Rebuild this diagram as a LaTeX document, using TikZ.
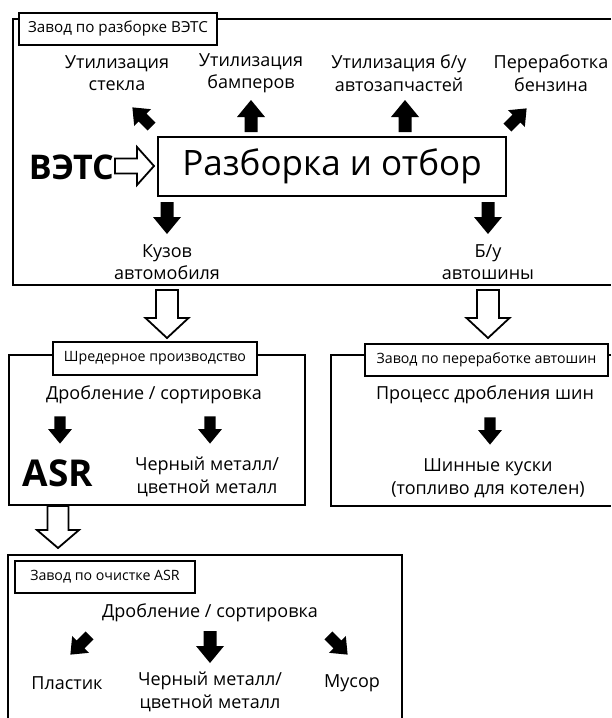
\documentclass[tikz,border=0pt]{standalone}
\usepackage{fontspec}
\setmainfont{Open Sans}
\tikzset{
  lbl/.style={align=center, font=\fontsize{18}{22.5}\selectfont, inner sep=0pt},
  ttl/.style={draw, line width=1.3pt, fill=white, inner sep=0pt, font=\fontsize{14.2}{16}\selectfont},
  frame/.style={line width=1.5pt},
  pics/blk/.style={code={\fill (-6.5,-16) -- (6.5,-16) -- (6.5,-1) -- (14,-1) -- (0,16) -- (-14,-1) -- (-6.5,-1) -- cycle;}},
  pics/hol/.style n args={4}{code={\draw[line width=1.8pt, fill=white, line join=miter] (-#2,0) -- (#2,0) -- (#2,#1-#4) -- (#3,#1-#4) -- (0,#1) -- (-#3,#1-#4) -- (-#2,#1-#4) -- cycle;}}
}
\begin{document}
\begin{tikzpicture}[x=1pt,y=-1pt]
\useasboundingbox (0,0) rectangle (611,718);
% frames
\draw[frame] (611,19) -- (13,19) -- (13,285) -- (611,285);
\draw[frame] (9,355) rectangle (305,505);
\draw[frame] (611,355) -- (331,355) -- (331,506) -- (611,506);
\draw[frame] (8,718) -- (8,555) -- (402,555) -- (402,718);
% titles
\node[ttl, minimum width=198pt, minimum height=32pt, font=\fontsize{15.2}{17}\selectfont] (t1) at (118,29) {Завод по разборке ВЭТС};
\node[ttl, minimum width=204pt, minimum height=33pt] (t2) at (155,358.5) {Шредерное производство};
\node[ttl, minimum width=243pt, minimum height=32pt] (t3) at (486.5,360) {Завод по переработке автошин};
\node[ttl, minimum width=180pt, minimum height=32pt] (t4) at (105,577) {Завод по очистке ASR};
% box 1
\node[draw, line width=1.5pt, minimum width=348pt, minimum height=59pt, inner sep=0pt, font=\fontsize{35}{40}\selectfont] (main) at (332,166.5) {Разборка и отбор};
\node[inner sep=0pt, anchor=east, font=\fontsize{34}{36}\bfseries] (vets) at (114,167) {ВЭТС};
\pic[rotate=90] at (115,166) {hol={39}{7.5}{19}{17}};
\node[lbl] (u1) at (117,73) {Утилизация\\стекла};
\node[lbl] (u2) at (251,73) {Утилизация\\бамперов};
\node[lbl] (u3) at (399,73) {Утилизация б/у\\автозапчастей};
\node[lbl] (u4) at (551,73) {Переработка\\бензина};
\pic[rotate=-135, scale=0.85] at (142,117) {blk};
\pic[rotate=180] at (251,116) {blk};
\pic[rotate=180] at (405,116) {blk};
\pic[rotate=135, scale=0.85] at (517,118) {blk};
\pic at (167,218) {blk};
\pic at (488,218) {blk};
\node[lbl] (k1) at (167,262) {Кузов\\автомобиля};
\node[lbl] (k2) at (488,262) {Б/у\\автошины};
\pic at (167,290) {hol={48}{11}{21.5}{20}};
\pic at (488,290) {hol={48}{11}{21.5}{20}};
% box 2
\node[lbl] (d1) at (154,395) {Дробление / сортировка};
\pic[scale=0.85] at (60,430) {blk};
\pic[scale=0.85] at (210,430) {blk};
\node[inner sep=0pt, font=\fontsize{37}{40}\bfseries] (asr) at (58,473) {ASR};
\node[lbl] (m1) at (207,477) {Черный металл/\\цветной металл};
\pic at (58,506) {hol={42}{10.5}{21}{18}};
% box 3
\node[lbl] (p1) at (485,395) {Процесс дробления шин};
\pic[scale=0.85] at (490,431) {blk};
\node[lbl] (s1) at (488,478) {Шинные куски\\(топливо для котелен)};
% box 4
\node[lbl] (d2) at (210,613) {Дробление / сортировка};
\pic[rotate=-45, scale=0.85] at (80,645) {blk};
\pic at (210,647) {blk};
\pic[rotate=45, scale=0.85] at (338,645) {blk};
\node[lbl] (pl) at (67,683) {Пластик};
\node[lbl, anchor=north] (m2) at (210,672) {Черный металл/\\цветной металл};
\node[lbl] (mu) at (352,683) {Мусор};
\end{tikzpicture}
\end{document}
